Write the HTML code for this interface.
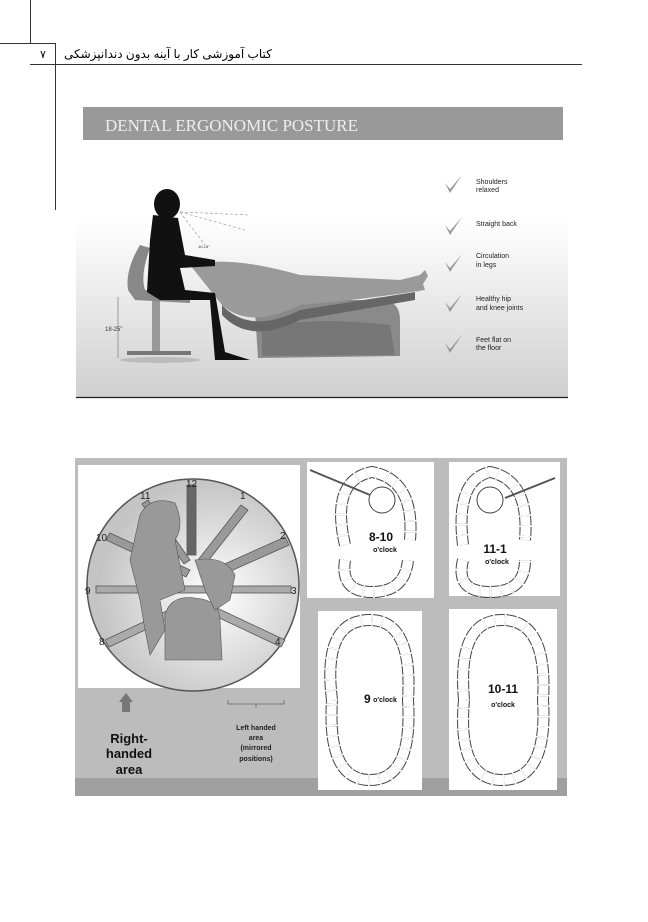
<!DOCTYPE html>
<html><head><meta charset="utf-8"><style>
body{margin:0;background:#fff;width:648px;height:917px;overflow:hidden;font-family:"Liberation Sans",sans-serif}
</style></head><body>
<svg width="648" height="917" viewBox="0 0 648 917" xmlns="http://www.w3.org/2000/svg" font-family="Liberation Sans, sans-serif">
<defs>
<linearGradient id="bg" x1="0" y1="0" x2="0" y2="1"><stop offset="0" stop-color="#fff"/><stop offset="0.4" stop-color="#fff"/><stop offset="1" stop-color="#d0d0d0"/></linearGradient>
<radialGradient id="cg" cx="0.6" cy="0.55" r="0.55"><stop offset="0" stop-color="#fff"/><stop offset="1" stop-color="#c4c4c4"/></radialGradient>
</defs>
<line x1="30.5" y1="0" x2="30.5" y2="43" stroke="#333"/>
<line x1="0" y1="43.5" x2="55" y2="43.5" stroke="#333"/>
<line x1="55.5" y1="43" x2="55.5" y2="210" stroke="#333"/>
<line x1="30" y1="64.5" x2="582" y2="64.5" stroke="#333"/>
<text x="43" y="58" font-size="11" text-anchor="middle" fill="#000">۷</text>
<text x="64" y="58" font-size="12" fill="#000" font-family="Liberation Sans, DejaVu Sans, sans-serif">کتاب آموزشی کار با آینه بدون دندانپزشکی</text>
<rect x="76" y="100" width="492" height="297" fill="url(#bg)"/>
<rect x="83" y="107" width="480" height="33" fill="#999"/>
<text x="105" y="131" font-size="17" fill="#eee" font-family="Liberation Serif, serif">DENTAL ERGONOMIC POSTURE</text>
<line x1="76" y1="397.5" x2="568" y2="397.5" stroke="#222" stroke-width="1.2"/>
<ellipse cx="160" cy="360" rx="40" ry="3" fill="#bbb"/>
<rect x="152" y="300" width="8" height="52" fill="#999"/>
<rect x="127" y="351" width="64" height="4" fill="#777"/>
<path d="M128 290 Q125 270 140 245 L150 248 Q140 275 145 290 L190 295 L190 303 L135 300 Z" fill="#888"/>
<path d="M255 312 Q255 300 300 300 L380 300 Q400 300 400 320 L400 356 L258 358 Z" fill="#8a8a8a"/>
<path d="M262 330 Q300 315 390 325 L395 355 L262 356Z" fill="#777"/>
<path d="M222 305 Q250 335 300 310 L415 292 L415 300 L300 320 Q250 345 222 315 Z" fill="#666"/>
<path d="M190 265 Q230 255 300 275 L400 280 L420 275 L425 290 Q360 300 300 305 Q250 330 222 305 Z" fill="#9a9a9a"/>
<path d="M410 285 L425 270 L428 276 L418 292 Z" fill="#9a9a9a"/>
<ellipse cx="167" cy="204" rx="13" ry="15" fill="#111"/>
<path d="M153 215 L178 218 L185 255 L215 260 L215 266 L180 268 L185 290 L215 293 L225 352 L250 360 L215 360 L210 300 L160 300 L147 292 L150 240 Z" fill="#111"/>
<line x1="118" y1="297" x2="118" y2="358" stroke="#888" stroke-width="0.8"/>
<text x="105" y="331" font-size="6" fill="#333">18-25"</text>
<path d="M180 212 L250 215 M180 212 L245 230 M180 212 L205 245" stroke="#aaa" stroke-dasharray="3,2" fill="none" stroke-width="0.8"/>
<text x="198" y="248" font-size="4" fill="#333">10-15°</text>
<g fill="#999">
<path d="M445 183 l5 6 l12 -14 l-12 18 z"/><path d="M445 225 l5 6 l12 -14 l-12 18 z"/>
<path d="M445 262 l5 6 l12 -14 l-12 18 z"/><path d="M445 302 l5 6 l12 -14 l-12 18 z"/>
<path d="M445 343 l5 6 l12 -14 l-12 18 z"/>
</g>
<g font-size="7" fill="#222">
<text x="476" y="184">Shoulders</text><text x="476" y="192">relaxed</text>
<text x="476" y="226">Straight back</text>
<text x="476" y="258">Circulation</text><text x="476" y="267">in legs</text>
<text x="476" y="301">Healthy hip</text><text x="476" y="310">and knee joints</text>
<text x="476" y="342">Feet flat on</text><text x="476" y="350">the floor</text>
</g>
<rect x="75" y="458" width="492" height="338" fill="#bcbcbc"/>
<rect x="75" y="778" width="492" height="18" fill="#a0a0a0"/>
<rect x="78" y="465" width="222" height="223" fill="#fff"/>
<circle cx="193" cy="585" r="106" fill="url(#cg)" stroke="#555" stroke-width="1.5"/>
<g stroke="#555" stroke-width="0.8">
<rect x="187" y="485" width="9" height="70" fill="#666"/>
<rect x="96" y="586" width="195" height="7" fill="#aaa"/>
<path d="M198 560 L241 505 L248 510 L205 565 Z" fill="#999"/>
<path d="M200 575 L285 537 L289 545 L204 583 Z" fill="#999"/>
<path d="M200 600 L285 640 L281 647 L196 607 Z" fill="#aaa"/>
<path d="M190 600 L105 640 L109 647 L194 607 Z" fill="#aaa"/>
<path d="M190 570 L110 533 L106 540 L186 577 Z" fill="#999"/>
<path d="M190 560 L148 500 L142 504 L184 564 Z" fill="#999"/>
</g>
<path d="M140 515 Q150 495 175 503 Q185 525 175 540 L185 590 L160 600 L165 630 L150 655 L145 630 L140 600 L130 560 Z" fill="#999" stroke="#555" stroke-width="0.6"/>
<path d="M165 615 Q170 595 195 598 Q220 600 220 620 L222 660 L165 660 Z" fill="#999" stroke="#555" stroke-width="0.6"/>
<path d="M195 560 Q225 555 235 575 L230 600 L215 610 L205 590 Z" fill="#999" stroke="#555" stroke-width="0.6"/>
<g font-size="10" fill="#222">
<text x="186" y="487">12</text><text x="140" y="499">11</text><text x="240" y="499">1</text>
<text x="96" y="541">10</text><text x="280" y="539">2</text>
<text x="85" y="594">9</text><text x="291" y="594">3</text>
<text x="99" y="645">8</text><text x="275" y="645">4</text>
</g>
<path d="M126 693 L133 702 L130 702 L130 712 L122 712 L122 702 L119 702 Z" fill="#777"/>
<text x="129" y="743" font-size="13" font-weight="bold" text-anchor="middle" fill="#111">Right-</text>
<text x="129" y="758" font-size="13" font-weight="bold" text-anchor="middle" fill="#111">handed</text>
<text x="129" y="774" font-size="13" font-weight="bold" text-anchor="middle" fill="#111">area</text>
<path d="M228 700 v4 h56 v-4 M256 704 v4" stroke="#666" fill="none" stroke-width="0.8"/>
<g font-size="7" text-anchor="middle" fill="#222" font-weight="bold">
<text x="256" y="730">Left handed</text><text x="256" y="740">area</text><text x="256" y="750">(mirrored</text><text x="256" y="761">positions)</text>
</g>
<rect x="307" y="462" width="127" height="136" fill="#fff"/>
<rect x="449" y="462" width="111" height="134" fill="#fff"/>
<rect x="318" y="611" width="104" height="179" fill="#fff"/>
<rect x="449" y="609" width="108" height="181" fill="#fff"/>
<g fill="none" stroke="#444" stroke-width="12" stroke-dasharray="9,1.5">
<path d="M345 545 Q330 480 372 472 Q415 480 410 540"/>
<path d="M345 560 Q340 592 372 592 Q405 592 408 560"/>
<path d="M463 545 Q455 480 490 472 Q530 480 525 540"/>
<path d="M463 560 Q455 592 490 592 Q525 592 525 560"/>
<path d="M332 700 Q322 620 370 620 Q413 620 408 700 Q413 780 370 780 Q327 780 332 700"/>
<path d="M464 700 Q457 620 502 620 Q548 620 543 700 Q548 780 502 780 Q457 780 464 700"/>
</g>
<g fill="none" stroke="#fff" stroke-width="10" stroke-dasharray="9,1.5">
<path d="M345 545 Q330 480 372 472 Q415 480 410 540"/>
<path d="M345 560 Q340 592 372 592 Q405 592 408 560"/>
<path d="M463 545 Q455 480 490 472 Q530 480 525 540"/>
<path d="M463 560 Q455 592 490 592 Q525 592 525 560"/>
<path d="M332 700 Q322 620 370 620 Q413 620 408 700 Q413 780 370 780 Q327 780 332 700"/>
<path d="M464 700 Q457 620 502 620 Q548 620 543 700 Q548 780 502 780 Q457 780 464 700"/>
</g>
<circle cx="382" cy="500" r="13" fill="#fff" stroke="#444"/>
<circle cx="490" cy="500" r="13" fill="#fff" stroke="#444"/>
<line x1="310" y1="470" x2="370" y2="495" stroke="#555" stroke-width="2"/>
<line x1="555" y1="478" x2="505" y2="498" stroke="#555" stroke-width="2"/>
<g font-weight="bold" fill="#111" text-anchor="middle">
<text x="381" y="541" font-size="12">8-10</text><text x="385" y="552" font-size="7">o'clock</text>
<text x="495" y="553" font-size="12">11-1</text><text x="497" y="564" font-size="7">o'clock</text>
<text x="364" y="703" font-size="12" text-anchor="start">9</text><text x="385" y="702" font-size="7">o'clock</text>
<text x="503" y="693" font-size="12">10-11</text><text x="503" y="707" font-size="7">o'clock</text>
</g>
</svg>
</body></html>
